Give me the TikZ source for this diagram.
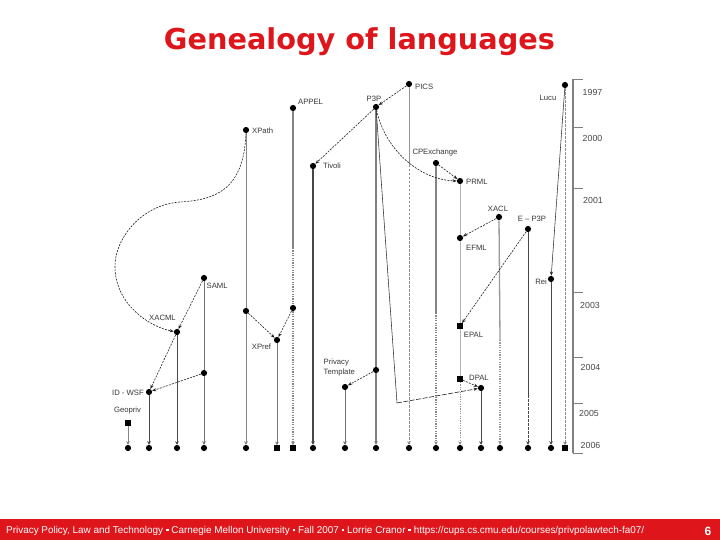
\documentclass[tikz,border=0pt]{standalone}
\usepackage{fontspec}
\setmainfont{Liberation Sans}
\newfontfamily\titlefont{DejaVu Sans}
\usetikzlibrary{arrows.meta}
\definecolor{slidered}{RGB}{222,22,28}
\begin{document}
\begin{tikzpicture}[x=1pt,y=-1pt,
  dotn/.style={circle,fill=black,inner sep=0pt,minimum size=6.2pt},
  sqn/.style={rectangle,fill=black,inner sep=0pt,minimum size=5.4pt},
  lbl/.style={font=\fontsize{7.7}{10}\selectfont,text=black!78,inner sep=0pt},
  yr/.style={font=\fontsize{8.8}{10}\selectfont,text=black!72,inner sep=0pt},
  conn/.style={draw=black!88,line width=0.6pt,dash pattern=on 2pt off 1.2pt,-{Stealth[length=4.2pt,width=3.2pt]}},
  tip/.style={-{Stealth[length=3.5pt,width=3.8pt,fill=black]}},
  dk/.style={draw=black!72,line width=1pt},
  md/.style={draw=black!48,line width=1.4pt},
  lt/.style={draw=black!48,line width=0.8pt},
  vl/.style={draw=black!30,line width=0.9pt},
  dots/.style={dash pattern=on 1.2pt off 1.2pt},
  dsh/.style={dash pattern=on 2.5pt off 1.5pt},
  axis/.style={draw=black!50,line width=1.6pt},
  tick/.style={draw=black!50,line width=0.8pt},
]
\useasboundingbox (0,0) rectangle (720,540);
\fill[white] (0,0) rectangle (720,540);

% title
\node[anchor=base,text=slidered,font=\titlefont\bfseries\fontsize{23}{26}\selectfont,inner sep=0pt] (title) at (359.5,49.3) {\resizebox{391pt}{!}{Genealogy of languages}};

% footer
\fill[slidered] (0,518.5) rectangle (720,540);
\newcommand{\fsq}{\raisebox{1.3pt}{\rule{2.2pt}{2.2pt}}}
\node[anchor=west,text=white,inner sep=0pt,font=\fontsize{8}{9}\selectfont] (foot) at (6,530.5) {\resizebox{638pt}{!}{Privacy Policy, Law and Technology \fsq{} Carnegie Mellon University \fsq{} Fall 2007 \fsq{} Lorrie Cranor \fsq{} https://cups.cs.cmu.edu/courses/privpolawtech-fa07/}};
\node[text=white,font=\bfseries\fontsize{12}{13}\selectfont,inner sep=0pt] (pnum) at (708,531) {6};

% axis
\draw[axis] (573,79) -- (573,453);
\foreach \yy in {79,127,188,292,357,403,453} \draw[tick] (573,\yy) -- (583,\yy);
\node[yr] (y1997) at (592.5,92) {1997};
\node[yr] (y2000) at (592.5,138.5) {2000};
\node[yr] (y2001) at (593,200) {2001};
\node[yr] (y2003) at (590,305) {2003};
\node[yr] (y2004) at (590.5,367) {2004};
\node[yr] (y2005) at (589,413.5) {2005};
\node[yr] (y2006) at (590.5,445) {2006};

% origin dots
\node[dotn] (pics) at (409,84) {};
\node[dotn] (p3p) at (376,107) {};
\node[dotn] (appel) at (293,108) {};
\node[dotn] (xpath) at (246,130) {};
\node[dotn] (tivoli) at (313,166) {};
\node[dotn] (cpex) at (436,163) {};
\node[dotn] (prml) at (460,181) {};
\node[dotn] (xacl) at (499,217) {};
\node[dotn] (ep3p) at (528,229) {};
\node[dotn] (efml) at (460,238) {};
\node[dotn] (lucu) at (565,85) {};
\node[dotn] (rei) at (551,279) {};
\node[dotn] (saml) at (204,278) {};
\node[dotn] (xacml) at (177,332) {};
\node[dotn] (xpref) at (277,340) {};
\node[sqn] (epal) at (460,326) {};
\node[dotn] (idwsf) at (149,392) {};
\node[sqn] (geopriv) at (128,423) {};
\node[dotn] (ptemp) at (345,387) {};
\node[dotn] (dpal) at (481,388) {};
\node[sqn] (dpalsrc) at (460,379) {};
\node[dotn] (samld) at (204,373) {};
\node[dotn] (xpathd) at (246,311) {};
\node[dotn] (appeld) at (293,308) {};
\node[dotn] (p3pd) at (376,370) {};
\coordinate (bend) at (397,403);
\coordinate (appelm) at (293,248);
\coordinate (picsm) at (409,165);
\coordinate (cpexm) at (436,313);
\coordinate (xaclm) at (500,340);
\coordinate (ep3pm) at (528,395);
\coordinate (xpc1) at (180,202);
\coordinate (xpc2) at (115,268);

% bottom markers
\foreach \i/\x/\s in {1/128/dotn,2/149/dotn,3/177/dotn,4/204/dotn,5/246/dotn,6/277/sqn,7/293/sqn,8/313/dotn,9/345/dotn,10/376/dotn,11/409/dotn,12/436/dotn,13/460/dotn,14/481/dotn,15/500/dotn,16/528/dotn,17/551/dotn,18/565/sqn}
  \node[\s] (b\i) at (\x,448) {};

% lineages
\draw[lt,tip] (geopriv) -- (b1);
\draw[dk,tip] (idwsf) -- (b2);
\draw[dk,tip] (xacml) -- (b3);
\draw[draw=black!55,line width=1pt] (saml) -- (samld);
\draw[draw=black!55,line width=1pt,tip] (samld) -- (b4);
\draw[lt] (xpath) -- (xpathd);
\draw[lt,tip] (xpathd) -- (b5);
\draw[draw=black!52,line width=0.9pt,tip] (xpref) -- (b6);
\draw[md] (appel) -- (appelm);
\draw[md,dots] (appelm) -- (appeld);
\draw[md,dots,tip] (appeld) -- (b7);
\draw[dk,line width=1.1pt,tip] (tivoli) -- (b8);
\draw[draw=black!55,line width=0.8pt,tip] (ptemp) -- (b9);
\draw[draw=black!50,line width=1.5pt] (p3p) -- (p3pd);
\draw[draw=black!50,line width=1.5pt,tip] (p3pd) -- (b10);
\draw[draw=black!42,line width=0.7pt] (pics) -- (picsm);
\draw[draw=black!45,line width=0.7pt,dsh,tip] (picsm) -- (b11);
\draw[md] (cpex) -- (cpexm);
\draw[md,dots,tip] (cpexm) -- (b12);
\draw[vl] (prml) -- (efml) -- (epal) -- (dpalsrc);
\draw[vl,draw=black!42,dots,tip] (dpalsrc) -- (b13);
\draw[dk,tip] (dpal) -- (b14);
\draw[draw=black!40,line width=1.3pt] (xacl) -- (xaclm);
\draw[draw=black!40,line width=1.3pt,dots,tip] (xaclm) -- (b15);
\draw[dk] (ep3p) -- (ep3pm);
\draw[dk,dsh,tip] (ep3pm) -- (b16);
\draw[dk,tip] (rei) -- (b17);
\draw[draw=black!45,line width=0.7pt,dsh,tip] (lucu) -- (b18);

% derivations
\draw[conn] (pics) -- (p3p);
\draw[conn] (p3p) -- (tivoli);
\draw[conn] (p3p) .. controls (385,150) and (420,180) .. (prml);
\draw[conn] (cpex) -- (prml);
\draw[conn] (xpath) .. controls (244,190) and (215,200) .. (xpc1) .. controls (140,205) and (114,240) .. (xpc2) .. controls (116,305) and (150,327) .. (xacml);
\draw[conn] (saml) -- (xacml);
\draw[conn] (xacml) -- (idwsf);
\draw[conn] (samld) -- (idwsf);
\draw[conn] (xpathd) -- (xpref);
\draw[conn] (appeld) -- (xpref);
\draw[conn] (p3pd) -- (ptemp);
\draw[conn] (xacl) -- (efml);
\draw[conn] (ep3p) -- (epal);
\draw[conn] (dpalsrc) -- (dpal);
\draw[draw=black!82,line width=0.55pt] (p3p) -- (bend);
\draw[conn,dash pattern=on 5pt off 1.5pt] (bend) -- (dpal);
\draw[draw=black!82,line width=0.55pt,-{Stealth[length=4.2pt,width=3.2pt]}] (lucu) -- (rei);

% labels
\node[lbl,anchor=west] (lpics) at (415,87) {PICS};
\node[lbl] (lp3p) at (374,99) {P3P};
\node[lbl,anchor=west] (lappel) at (298,102) {APPEL};
\node[lbl,anchor=west] (lxpath) at (252,130.5) {XPath};
\node[lbl,anchor=west] (ltivoli) at (323,166) {Tivoli};
\node[lbl] (lcpex) at (435,153) {CPExchange};
\node[lbl,anchor=west] (lprml) at (466,182) {PRML};
\node[lbl] (lxacl) at (498,208.5) {XACL};
\node[lbl] (lep3p) at (532,218.5) {E – P3P};
\node[lbl] (lefml) at (476.5,248) {EFML};
\node[lbl] (llucu) at (548,97.5) {Lucu};
\node[lbl,anchor=east] (lrei) at (547,282) {Rei};
\node[lbl,anchor=west] (lsaml) at (206.5,286) {SAML};
\node[lbl] (lxacml) at (162.5,317.5) {XACML};
\node[lbl] (lxpref) at (261.5,346.5) {XPref};
\node[lbl] (lepal) at (473.5,335) {EPAL};
\node[lbl,anchor=east] (lidwsf) at (144,392.5) {ID - WSF};
\node[lbl] (lgeo) at (127.5,411) {Geopriv};
\node[lbl,align=left,anchor=west] (lptemp) at (323.5,368) {Privacy\\Template};
\node[lbl] (ldpal) at (479,378) {DPAL};
\end{tikzpicture}
\end{document}
